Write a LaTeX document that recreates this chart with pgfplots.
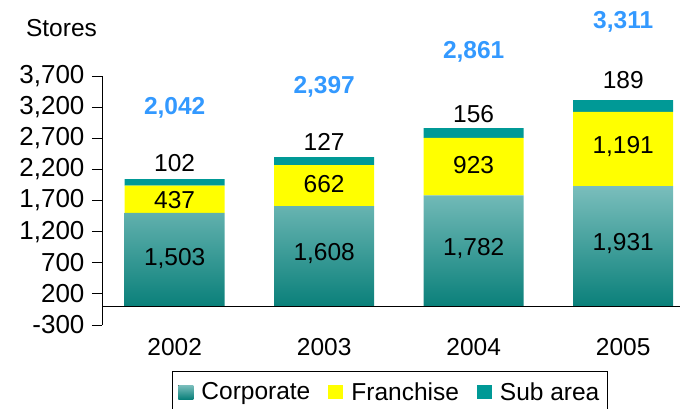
\documentclass[border=0pt]{standalone}
\usepackage{pgfplots}
\pgfplotsset{compat=1.18}
\usepackage{fontspec}
\setmainfont{Liberation Sans}
\definecolor{corpTop}{RGB}{122,190,188}
\definecolor{corpBot}{RGB}{10,128,122}
\definecolor{subc}{RGB}{0,153,150}
\definecolor{yel}{RGB}{255,255,0}
\definecolor{tot}{RGB}{51,153,255}
\newcommand\fs{\fontsize{24.5}{29}\selectfont}
\newcommand\fy{\fontsize{26}{30}\selectfont}
\begin{document}
\begin{tikzpicture}[font=\fs]
\useasboundingbox (-102pt,-84pt) rectangle (580pt,325pt);
\pgfplotsset{common/.style={
  at={(0pt,0pt)}, anchor=south west, scale only axis, width=578pt, height=249pt,
  xmin=-0.486, xmax=3.38, ymin=-300, ymax=3700, clip=false}}
\begin{axis}[common, ybar stacked, bar width=100pt,
  axis y line*=left, axis x line*=bottom, x axis line style={draw=none},
  xtick={0,1,2,3}, xticklabels={2002,2003,2004,2005}, xtick style={draw=none},
  ytick={-300,200,...,3700},
  y axis line style={line width=0.9pt, black},
  ytick style={line width=0.9pt, black},
  tick align=outside, major tick length=10pt,
  yticklabel style={/pgf/number format/1000 sep={,}, /pgf/number format/assume math mode=true, font=\fy, xshift=-4pt},
  xticklabel style={font=\fs},
  every axis y label/.style={at={(axis description cs:0,1)}, anchor=center, xshift=-40.5pt, yshift=48pt, font=\fs},
  ylabel={Stores},
  legend columns=3,
  legend image code/.code={\fill[#1] (0pt,-7pt) rectangle (15pt,7pt);},
  legend style={at={(axis description cs:0.1211,-0.1847)}, anchor=north west, draw=black, line width=0.9pt, font=\fs,
    inner xsep=6pt, inner ysep=9pt,
    /tikz/every odd column/.append style={column sep=6pt},
    /tikz/every even column/.append style={column sep=16pt}},
  legend entries={Corporate, Franchise, Sub area},
]
\addplot[draw=none, top color=corpTop, bottom color=corpBot] coordinates {(0,1503) (1,1608) (2,1782) (3,1931)};
\addplot[draw=none, fill=yel] coordinates {(0,437) (1,662) (2,923) (3,1191)};
\addplot[draw=none, fill=subc] coordinates {(0,102) (1,127) (2,156) (3,189)};
\end{axis}
\begin{axis}[common, hide axis]
\addplot[black, line width=1.6pt, no marks] coordinates {(-0.486,0) (3.38,0)};
\addplot[only marks, mark=*, mark size=0pt, mark options={draw=none, fill=none},
  nodes near coords, point meta=explicit symbolic,
  nodes near coords style={anchor=center, font=\fs, text=black}]
  table[meta=lab] {
x y lab
0 760 1,503
1 851 1,608
2 932 1,782
3 1012 1,931
0 1708 437
1 1965 662
2 2270 923
3 2573 1,191
0 2297 102
1 2644 127
2 3084 156
3 3635 189
};
\addplot[only marks, mark=*, mark size=0pt, mark options={draw=none, fill=none},
  nodes near coords, point meta=explicit symbolic,
  nodes near coords style={anchor=center, font=\fs\bfseries, text=tot}]
  table[meta=lab] {
x y lab
0 3181 2,042
1 3528 2,397
2 4090 2,861
3 4572 3,311
};
\end{axis}
\end{tikzpicture}
\end{document}
